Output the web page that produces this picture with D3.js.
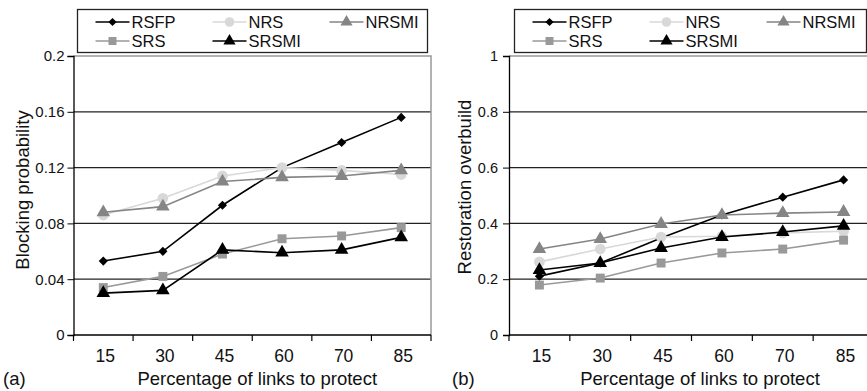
<!doctype html>
<html lang="en">
<head>
  <meta charset="UTF-8">
  <title>Blocking probability and restoration overbuild</title>
  <script src="https://d3js.org/d3.v7.min.js" charset="utf-8"></script>
  <style>
    body { margin: 0; background: #fff; }
    text { font-family: "Liberation Sans", Arial, sans-serif; fill: #111; }
  </style>
</head>
<body>
  <script>

    var categories = ["15", "30", "45", "60", "70", "85"];
    var seriesNames = ["RSFP", "NRS", "NRSMI", "SRS", "SRSMI"];

    // (a) blocking probability
    var blockRSFP  = [0.053, 0.060, 0.093, 0.120, 0.138, 0.156];
    var blockNRS   = [0.086, 0.098, 0.114, 0.120, 0.118, 0.115];
    var blockNRSMI = [0.088, 0.092, 0.110, 0.113, 0.114, 0.118];
    var blockSRS   = [0.034, 0.042, 0.058, 0.069, 0.071, 0.077];
    var blockSRSMI = [0.030, 0.032, 0.061, 0.059, 0.061, 0.070];
    var blockTicks = [0, 0.04, 0.08, 0.12, 0.16, 0.2];

    // (b) restoration overbuild
    var overRSFP  = [0.211, 0.258, 0.348, 0.430, 0.494, 0.556];
    var overNRS   = [0.262, 0.308, 0.351, 0.354, 0.366, 0.372];
    var overNRSMI = [0.308, 0.344, 0.398, 0.430, 0.437, 0.441];
    var overSRS   = [0.179, 0.204, 0.258, 0.294, 0.308, 0.340];
    var overSRSMI = [0.233, 0.258, 0.312, 0.351, 0.369, 0.391];
    var overTicks = [0, 0.2, 0.4, 0.6, 0.8, 1];

    var styles = {
      RSFP:  { line: "#000", fill: "#000", shape: d3.symbolSquare, size: 42, rot: 45 },
      NRS:   { line: "#d8d8d8", fill: "#d8d8d8", shape: d3.symbolCircle, size: 90, rot: 0 },
      NRSMI: { line: "#858585", fill: "#858585", shape: d3.symbolTriangle, size: 80, rot: 0 },
      SRS:   { line: "#999", fill: "#999", shape: d3.symbolSquare, size: 80, rot: 0 },
      SRSMI: { line: "#000", fill: "#000", shape: d3.symbolTriangle, size: 80, rot: 0 }
    };

    var W = 867, H = 391;
    var svg = d3.select("body").append("svg")
      .attr("width", W).attr("height", H);

    function drawPanel (p) {
      var x = d3.scaleBand().domain(categories).range([p.left, p.right]);
      var y = d3.scaleLinear().domain([0, p.max]).range([335, 56]);
      var g = svg.append("g");

      // gridlines
      g.selectAll(".grid").data(p.ticks.slice(1, -1)).enter().append("line")
        .attr("x1", p.left).attr("x2", p.right)
        .attr("y1", function (d) { return y(d); })
        .attr("y2", function (d) { return y(d); })
        .attr("stroke", "#222").attr("stroke-width", 1.3);

      // plot border top + right
      g.append("path")
        .attr("d", "M" + p.left + "," + y(p.max) + "H" + p.right + "V" + y(0))
        .attr("fill", "none").attr("stroke", "#999").attr("stroke-width", 1.5);

      // y axis
      var ya = g.append("g").attr("transform", "translate(" + p.left + ",0)")
        .call(d3.axisLeft(y).tickValues(p.ticks).tickSize(6).tickPadding(p.pad)
          .tickFormat(function (d) { return d3.format("~g")(d); }));
      ya.selectAll("text").style("font-size", p.tickFont);
      ya.select(".domain").attr("stroke-width", 1.3);

      // x axis with ticks at band edges
      var xa = g.append("g").attr("transform", "translate(0,335)");
      xa.append("line").attr("x1", p.left).attr("x2", p.right)
        .attr("stroke", "#000").attr("stroke-width", 1.3);
      var edges = categories.map(function (c) { return x(c); }).concat([x(categories[5]) + x.bandwidth()]);
      xa.selectAll(".tk").data(edges).enter().append("line")
        .attr("x1", function (d) { return d; }).attr("x2", function (d) { return d; })
        .attr("y1", 0).attr("y2", 6).attr("stroke", "#000").attr("stroke-width", 1.2);
      xa.selectAll(".lbl").data(categories).enter().append("text")
        .attr("x", function (d) { return x(d) + x.bandwidth() / 2 + 2; })
        .attr("y", 27).attr("text-anchor", "middle")
        .style("font-size", "17.5px").text(function (d) { return d; });

      // series, in legend order
      var line = d3.line()
        .x(function (d, i) { return x(categories[i]) + x.bandwidth() / 2; })
        .y(function (d) { return y(d); });
      seriesNames.forEach(function (name, k) {
        var vals = p.data[k], s = styles[name];
        g.append("path").attr("d", line(vals))
          .attr("fill", "none").attr("stroke", s.line).attr("stroke-width", 1.6);
        g.selectAll(".m" + k).data(vals).enter().append("path")
          .attr("transform", function (d, i) {
            return "translate(" + (x(categories[i]) + x.bandwidth() / 2) + "," + y(d) + ") rotate(" + s.rot + ")";
          })
          .attr("d", d3.symbol().type(s.shape).size(s.size))
          .attr("fill", s.fill);
      });

      // axis titles
      g.append("text")
        .attr("transform", "translate(" + p.ytx + "," + p.yty + ") rotate(-90)")
        .attr("text-anchor", "middle").style("font-size", "18.5px").text(p.ytitle);
      g.append("text")
        .attr("x", (p.left + Math.min(p.right, W)) / 2 + p.xtOff).attr("y", 385)
        .attr("text-anchor", "middle").style("font-size", "18.5px")
        .text("Percentage of links to protect");
      g.append("text").attr("x", p.tag).attr("y", 385)
        .style("font-size", "18.5px").text(p.label);

      // legend
      var lg = g.append("g");
      lg.append("rect").attr("x", p.lgx).attr("y", 9.5)
        .attr("width", p.lgw).attr("height", 43)
        .attr("fill", "#fff").attr("stroke", "#222").attr("stroke-width", 1.3);
      seriesNames.forEach(function (name, k) {
        var col = k % 3, row = Math.floor(k / 3);
        var lx = p.lgx + 18 + col * 117, ly = 22 + row * 19, s = styles[name];
        lg.append("line").attr("x1", lx).attr("x2", lx + 34)
          .attr("y1", ly).attr("y2", ly)
          .attr("stroke", s.line).attr("stroke-width", 1.6);
        lg.append("path").attr("transform", "translate(" + (lx + 17) + "," + ly + ") rotate(" + s.rot + ")")
          .attr("d", d3.symbol().type(s.shape).size(s.size * 0.8)).attr("fill", s.fill);
        lg.append("text").attr("x", lx + 36).attr("y", ly + 6)
          .style("font-size", "16.5px").text(name);
      });
    }

    drawPanel({
      left: 73.5, right: 431, max: 0.2, ticks: blockTicks, pad: 3, tickFont: "15px",
      data: [blockRSFP, blockNRS, blockNRSMI, blockSRS, blockSRSMI],
      ytitle: "Blocking probability", ytx: 29, yty: 190, label: "(a)", tag: 3, xtOff: 5,
      lgx: 77.5, lgw: 350
    });

    drawPanel({
      left: 509, right: 874, max: 1, ticks: overTicks, pad: 5, tickFont: "14.5px",
      data: [overRSFP, overNRS, overNRSMI, overSRS, overSRSMI],
      ytitle: "Restoration overbuild", ytx: 471, yty: 187, label: "(b)", tag: 452, xtOff: 12,
      lgx: 514.5, lgw: 352
    });

  </script>
</body>
</html>
